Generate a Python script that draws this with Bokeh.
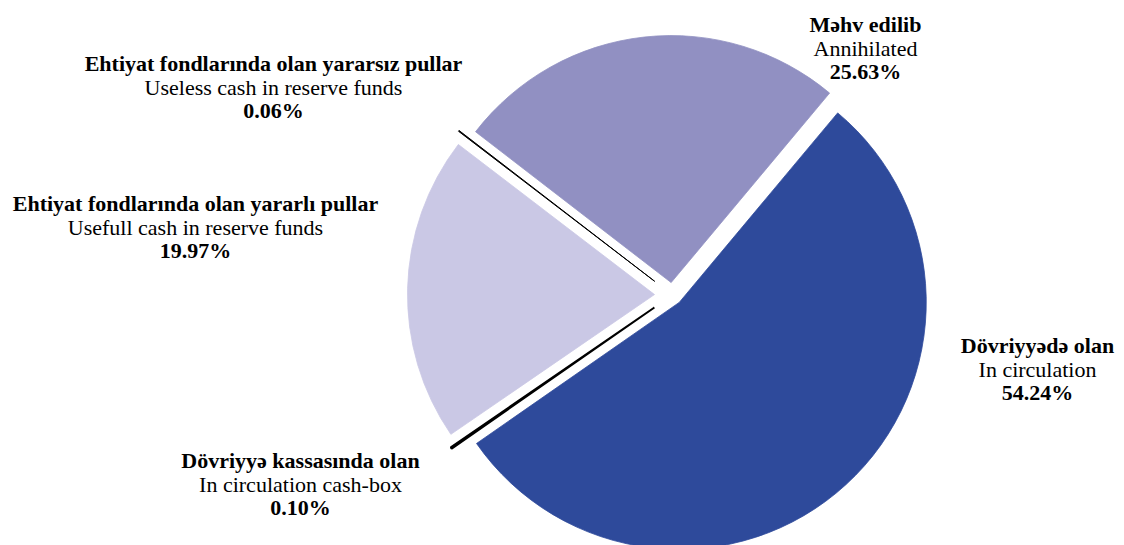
import math
from bokeh.plotting import figure
from bokeh.models import Range1d, ColumnDataSource
from bokeh.core.properties import value
from bokeh.embed import file_html
from bokeh.resources import INLINE

# ---- data ----
labels_az = ["Dövriyyədə olan", "Dövriyyə kassasında olan",
             "Ehtiyat fondlarında olan yararlı pullar",
             "Ehtiyat fondlarında olan yararsız pullar", "Məhv edilib"]
labels_en = ["In circulation", "In circulation cash-box",
             "Usefull cash in reserve funds", "Useless cash in reserve funds",
             "Annihilated"]
shares = [54.24, 0.10, 19.97, 0.06, 25.63]

# ---- style / layout ----
colors = ["#2E4A9B", "#000000", "#CAC8E5", "#000000", "#9190C2"]
outline_w = [0.8, 2.0, 0.8, 1.0, 0.8]
explode = [10, 22, 18, 22.5, 12.5]          # px offsets along bisector
start_deg = 50.1                             # first slice starts here, goes clockwise
W, H = 1124, 545
cx, cy = 672, H - 294.5                      # pie centre (data y up)
R = 247
label_pos = [(1037, 345), (300, 460), (195, 203), (273, 63), (865, 24)]  # screen px (x, first line y)
line_gap = 23.5
FONT = "Liberation Serif"
FS = "22px"

p = figure(width=W, height=H, output_backend="svg", toolbar_location=None,
           x_range=Range1d(0, W), y_range=Range1d(0, H),
           min_border=0, outline_line_color=None, background_fill_color="white")
p.axis.visible = False
p.grid.visible = False

total = sum(shares)
starts, ends, xs, ys = [], [], [], []
a = math.radians(start_deg)
for v, e in zip(shares, explode):
    span = 2 * math.pi * v / total
    a_end = a - span
    mid = (a + a_end) / 2
    starts.append(a_end)
    ends.append(a)
    xs.append(cx + e * math.cos(mid))
    ys.append(cy + e * math.sin(mid))
    a = a_end

src = ColumnDataSource(dict(x=xs, y=ys, start=starts, end=ends, color=colors, lw=outline_w))
p.wedge(x="x", y="y", radius=R, start_angle="start", end_angle="end",
        fill_color="color", line_color="color", line_width="lw",
        source=src, direction="anticlock")

tx, ty, tt, tw = [], [], [], []
for (lx, ly), az, en, v in zip(label_pos, labels_az, labels_en, shares):
    for k, (t, wgt) in enumerate([(az, "bold"), (en, "normal"), (f"{v:.2f}%", "bold")]):
        tx.append(lx)
        ty.append(H - (ly + k * line_gap))
        tt.append(t)
        tw.append(wgt)

def sub(weight):
    return ColumnDataSource(dict(x=[x for x, w in zip(tx, tw) if w == weight],
                                 y=[y for y, w in zip(ty, tw) if w == weight],
                                 t=[t for t, w in zip(tt, tw) if w == weight]))

p.text(x="x", y="y", text="t", source=sub("bold"), text_font=value(FONT),
       text_font_size=FS, text_font_style="bold", text_align="center",
       text_baseline="middle", text_color="#000000")
p.text(x="x", y="y", text="t", source=sub("normal"), text_font=value(FONT),
       text_font_size=FS, text_align="center",
       text_baseline="middle", text_color="#000000")

open("out.html", "w").write(file_html(p, INLINE))
